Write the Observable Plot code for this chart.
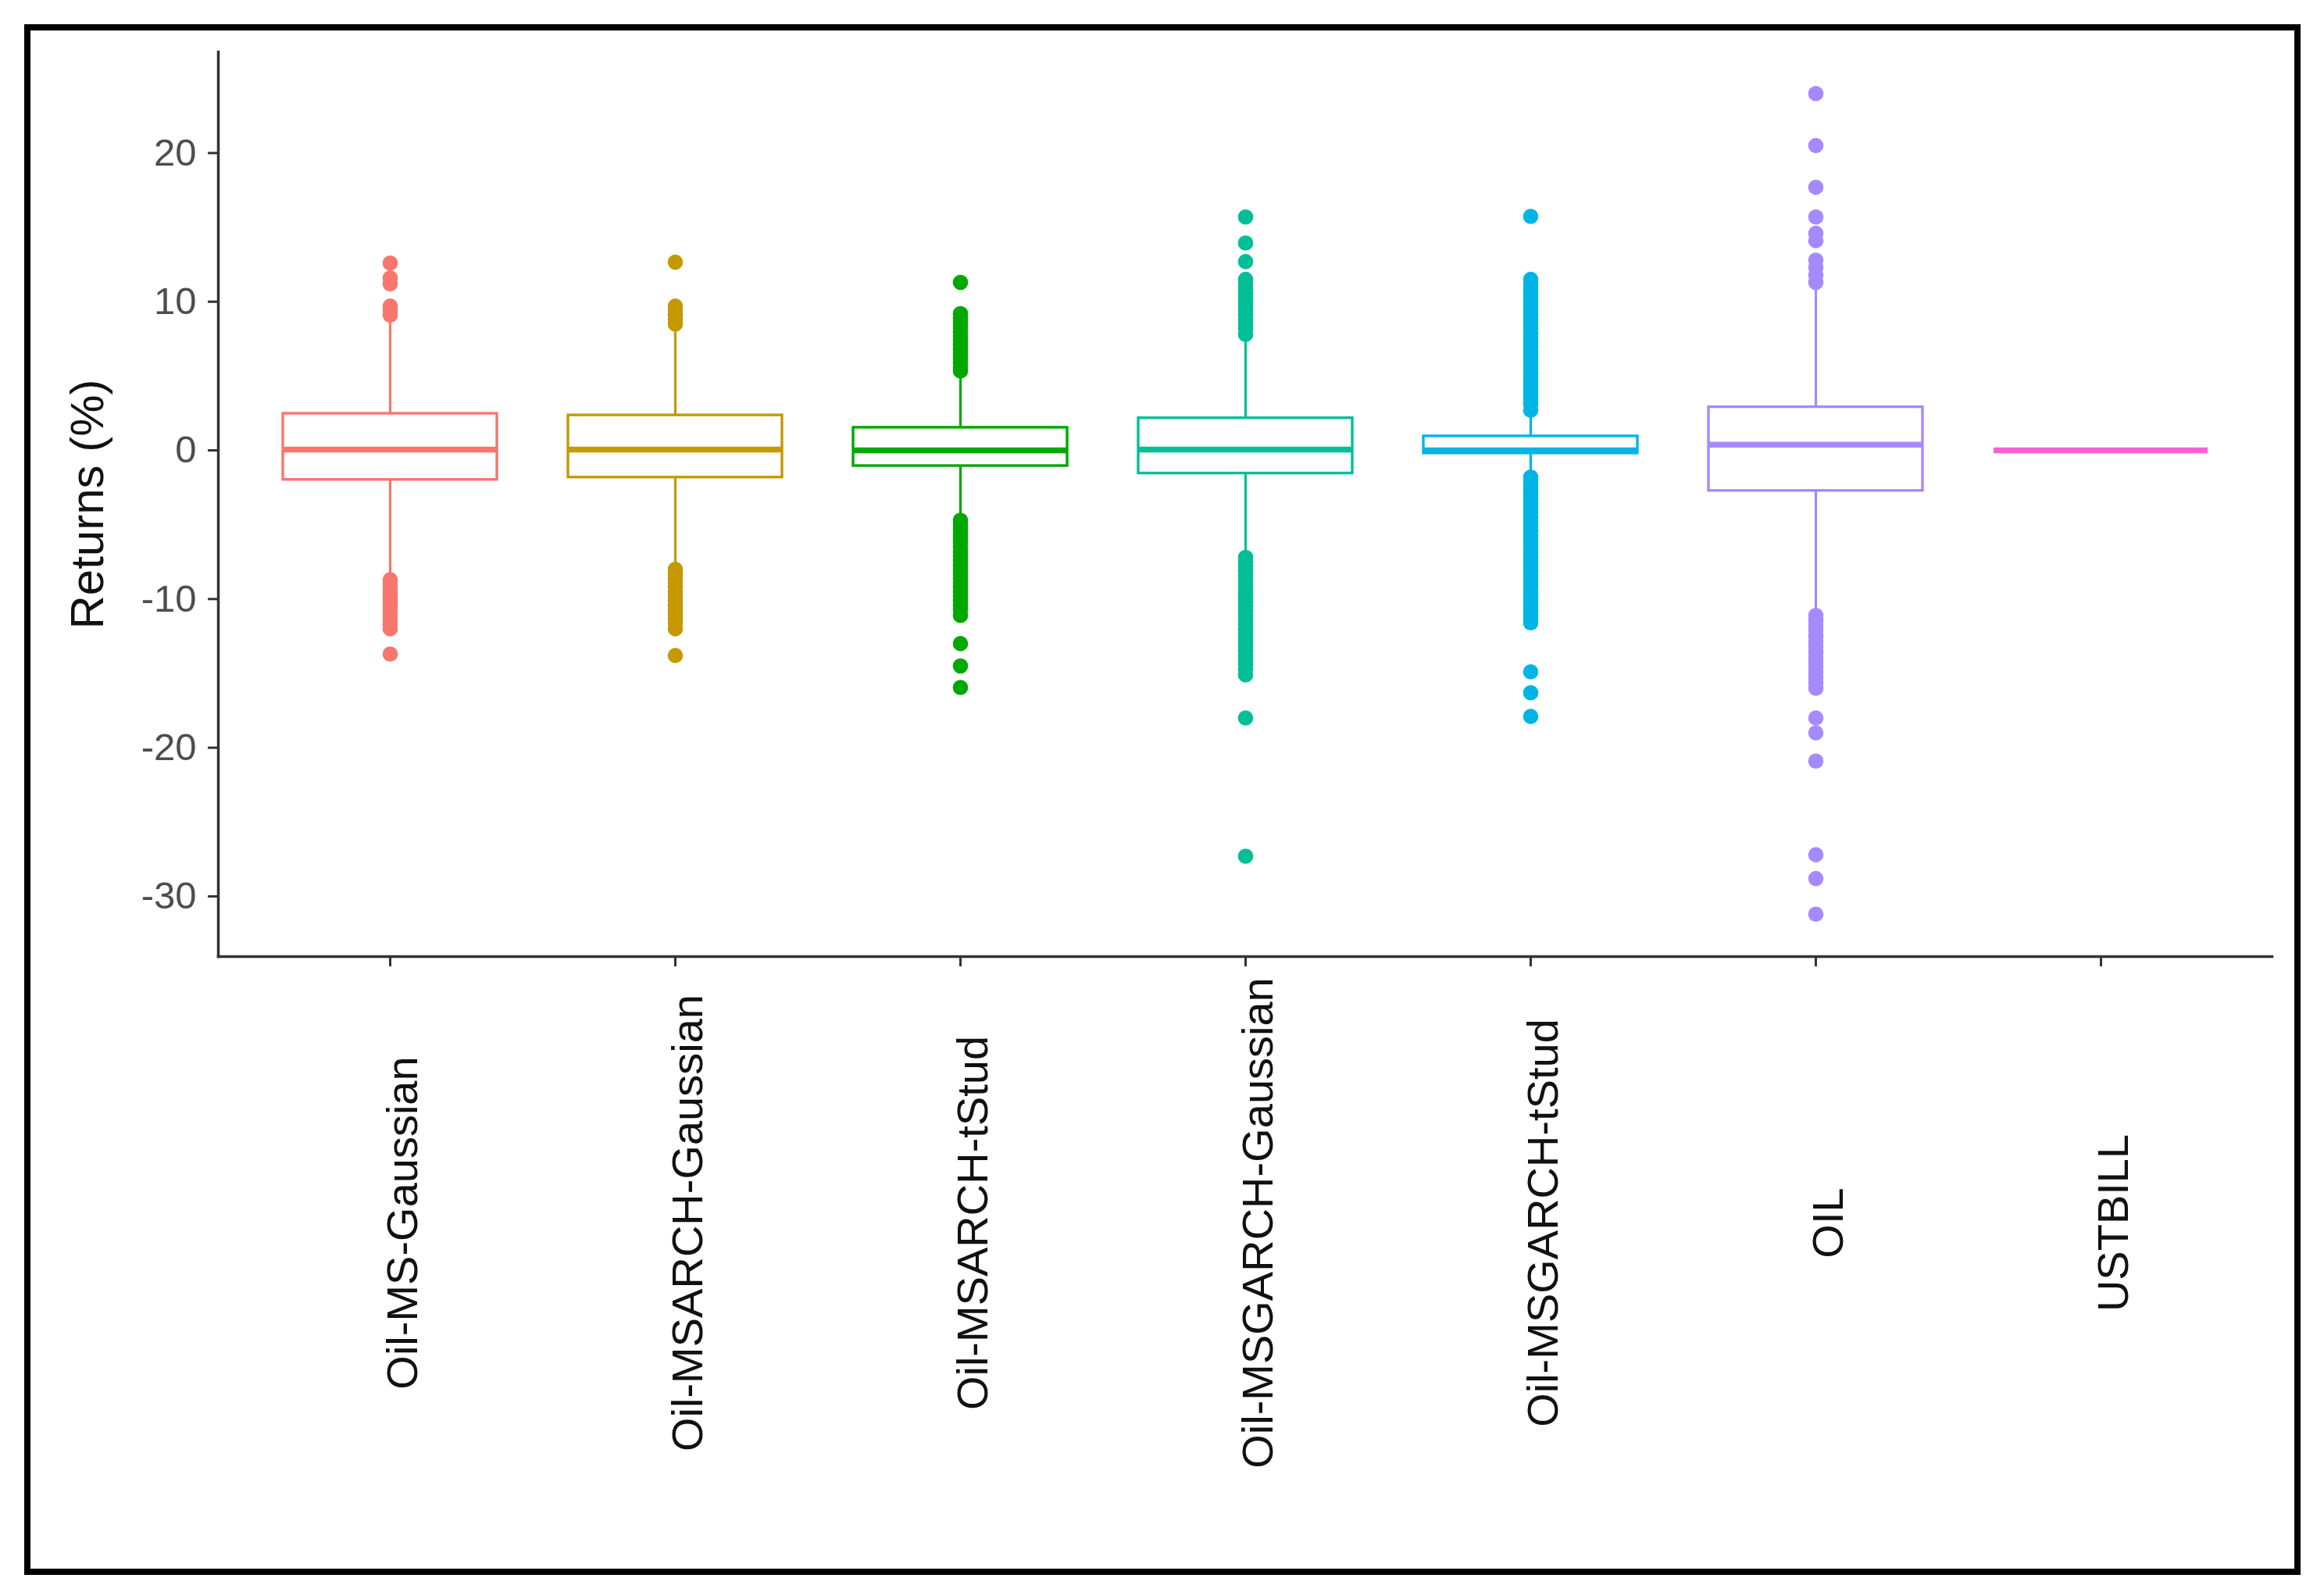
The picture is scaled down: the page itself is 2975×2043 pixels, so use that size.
<!DOCTYPE html>
<html>
<head>
<meta charset="utf-8">
<script src="https://cdn.jsdelivr.net/npm/d3@7"></script>
<script src="https://cdn.jsdelivr.net/npm/@observablehq/plot@0.6"></script>
<style>
  html, body { margin: 0; padding: 0; background: #fff; }
  #wrap { position: relative; width: 2975px; height: 2043px; overflow: hidden; }
  #border { position: absolute; left: 31px; top: 31px; width: 2914px; height: 1985px; box-sizing: border-box; border: 8px solid #000; pointer-events: none; }
  #chart { position: absolute; left: 0; top: 0; }
</style>
</head>
<body>
<div id="wrap"><div id="chart"></div><div id="border"></div></div>
<script>
const categories = ["Oil-MS-Gaussian", "Oil-MSARCH-Gaussian", "Oil-MSARCH-tStud", "Oil-MSGARCH-Gaussian", "Oil-MSGARCH-tStud", "OIL", "USTBILL"];
const colors = ["#F8766D", "#C49A00", "#00A800", "#00BF96", "#00B4E6", "#A58AFF", "#FB61D7"];
const q1 = [-1.98, -1.82, -1.05, -1.55, -0.2, -2.72, 0];
const median = [0.05, 0.05, 0.0, 0.05, 0.0, 0.38, 0];
const q3 = [2.47, 2.36, 1.53, 2.17, 0.95, 2.91, 0];
const whiskerLow = [-8.6, -7.8, -4.4, -6.9, -1.6, -10.9, 0];
const whiskerHigh = [9.0, 8.3, 5.1, 7.5, 2.5, 11.1, 0];
const outliersMSGaussian = [12.6, 11.6, 11.2, 9.7, 9.4, 9.1,
  -8.7, -9.0, -9.3, -9.6, -9.9, -10.2, -10.5, -10.8, -11.1, -11.4, -11.7, -12.0, -13.7];
const outliersMSARCHGaussian = [12.66, 9.7, 9.4, 9.1, 8.8, 8.5,
  -8.0, -8.3, -8.6, -8.9, -9.2, -9.5, -9.8, -10.1, -10.4, -10.7, -11.0, -11.3, -11.6, -12.0, -13.8];
const outliersMSARCHtStud = [11.3, 9.2, 8.9, 8.6, 8.3, 8.0, 7.7, 7.4, 7.1, 6.8, 6.5, 6.2, 5.9, 5.6, 5.35,
  -4.7, -5.0, -5.3, -5.6, -5.9, -6.2, -6.5, -6.8, -7.1, -7.4, -7.7, -8.0, -8.3, -8.6, -8.9, -9.2, -9.5, -9.8, -10.1, -10.4, -10.7, -11.1,
  -13.0, -14.5, -15.95];
const outliersMSGARCHGaussian = [15.7, 13.95, 12.7, 11.5, 11.2, 10.9, 10.6, 10.3, 10.0, 9.7, 9.4, 9.1, 8.8, 8.5, 8.2, 7.8,
  -7.2, -7.5, -7.8, -8.1, -8.4, -8.7, -9.0, -9.3, -9.6, -9.9, -10.2, -10.5, -10.8, -11.1, -11.4, -11.7, -12.0, -12.3, -12.6, -12.9, -13.2, -13.5, -13.8, -14.1, -14.4, -14.7, -15.1,
  -18.0, -27.3];
const outliersMSGARCHtStud = [15.74, 11.5, 11.2, 10.9, 10.6, 10.3, 10.0, 9.7, 9.4, 9.1, 8.8, 8.5, 8.2, 7.9, 7.6, 7.3, 7.0, 6.7, 6.4, 6.1, 5.8, 5.5, 5.2, 4.9, 4.6, 4.3, 4.0, 3.7, 3.4, 3.1, 2.7,
  -1.8, -2.1, -2.4, -2.7, -3.0, -3.3, -3.6, -3.9, -4.2, -4.5, -4.8, -5.1, -5.4, -5.7, -6.0, -6.3, -6.6, -6.9, -7.2, -7.5, -7.8, -8.1, -8.4, -8.7, -9.0, -9.3, -9.6, -9.9, -10.2, -10.5, -10.8, -11.1, -11.3, -11.6,
  -14.9, -16.3, -17.9];
const outliersOIL = [24.0, 20.5, 17.7, 15.7, 14.6, 14.1, 12.8, 12.3, 11.8, 11.3,
  -11.1, -11.45, -11.8, -12.15, -12.5, -12.85, -13.2, -13.55, -13.9, -14.25, -14.6, -14.95, -15.3, -15.65, -16.0,
  -18.0, -19.0, -20.9, -27.2, -28.8, -31.2];
const outliersUSTBILL = [];
const outlierLists = [outliersMSGaussian, outliersMSARCHGaussian, outliersMSARCHtStud, outliersMSGARCHGaussian, outliersMSGARCHtStud, outliersOIL, outliersUSTBILL];
const yTicks = [-30, -20, -10, 0, 10, 20];
const yLabel = "Returns (%)";

const stats = categories.map((c, i) => ({cat: c, q1: q1[i], med: median[i], q3: q3[i], lo: whiskerLow[i], hi: whiskerHigh[i]}));
const points = outlierLists.flatMap((arr, i) => arr.map(v => ({cat: categories[i], value: v})));

const font = "'Liberation Sans', Arial, Helvetica, sans-serif";
const chart = Plot.plot({
  width: 2975,
  height: 2043,
  marginLeft: 279,
  marginRight: 67,
  marginTop: 66,
  marginBottom: 819,
  style: {fontFamily: font, fontSize: "48px", background: "transparent"},
  x: {domain: categories, paddingInner: 0.25, paddingOuter: 0.225, axis: null},
  y: {domain: [-34.05, 26.8], axis: null},
  color: {domain: categories, range: colors},
  marks: [
    Plot.frame({anchor: "left", stroke: "#333", strokeWidth: 3.5}),
    Plot.frame({anchor: "bottom", stroke: "#333", strokeWidth: 3.5}),
    Plot.axisY({ticks: yTicks, tickFormat: d => String(d), tickSize: 13, tickPadding: 15, fontSize: 49, color: "#4d4d4d", stroke: "#333", strokeWidth: 3, label: null}),
    Plot.axisX({tickSize: 13, tickFormat: () => "", stroke: "#333", strokeWidth: 3, label: null}),
    Plot.ruleX(stats, {x: "cat", y1: "lo", y2: "q1", stroke: "cat", strokeWidth: 3.2}),
    Plot.ruleX(stats, {x: "cat", y1: "q3", y2: "hi", stroke: "cat", strokeWidth: 3.2}),
    Plot.barY(stats, {x: "cat", y1: "q1", y2: "q3", fill: "white", stroke: "cat", strokeWidth: 3.4, inset: 0}),
    Plot.tickY(stats, {x: "cat", y: "med", stroke: "cat", strokeWidth: 7.5}),
    Plot.dot(points, {x: "cat", y: "value", r: 9.8, fill: "cat", stroke: null}),
    Plot.text(categories, {x: d => d, frameAnchor: "bottom", dy: 341, dx: 34, rotate: -90, textAnchor: "middle", fontSize: 56, fill: "#111"}),
    Plot.text([yLabel], {frameAnchor: "left", dx: -167, rotate: -90, textAnchor: "middle", fontSize: 60, fill: "#111"})
  ]
});
document.getElementById("chart").appendChild(chart);
</script>
</body>
</html>
